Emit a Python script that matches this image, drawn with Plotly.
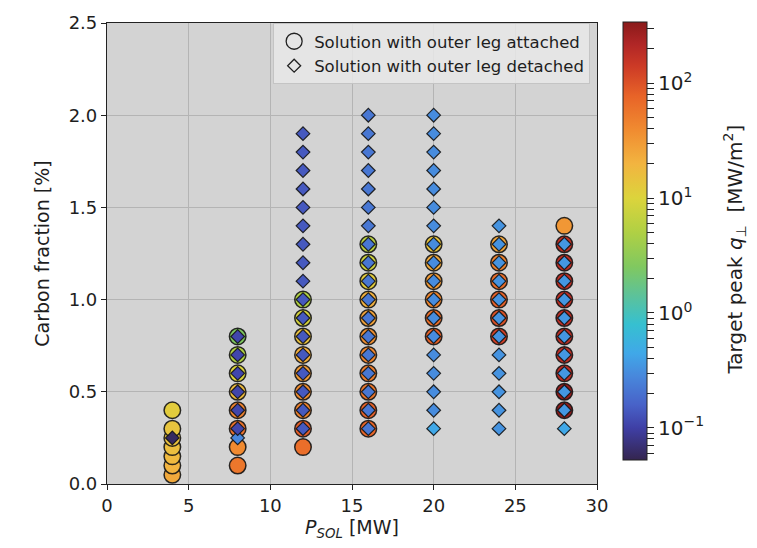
import numpy as np
import plotly.graph_objects as go

# ---------------- data ----------------
# Solutions with outer leg attached
att_P = [4, 4, 4, 4, 4, 4, 4,
         8, 8, 8, 8, 8, 8, 8, 8,
         12, 12, 12, 12, 12, 12, 12, 12, 12,
         16, 16, 16, 16, 16, 16, 16, 16, 16, 16, 16,
         20, 20, 20, 20, 20, 20,
         24, 24, 24, 24, 24, 24,
         28, 28, 28, 28, 28, 28, 28, 28, 28, 28, 28]
att_C = [0.05, 0.10, 0.15, 0.20, 0.25, 0.30, 0.40,
         0.1, 0.2, 0.3, 0.4, 0.5, 0.6, 0.7, 0.8,
         0.2, 0.3, 0.4, 0.5, 0.6, 0.7, 0.8, 0.9, 1.0,
         0.3, 0.4, 0.5, 0.6, 0.7, 0.8, 0.9, 1.0, 1.1, 1.2, 1.3,
         0.8, 0.9, 1.0, 1.1, 1.2, 1.3,
         0.8, 0.9, 1.0, 1.1, 1.2, 1.3,
         0.4, 0.5, 0.6, 0.7, 0.8, 0.9, 1.0, 1.1, 1.2, 1.3, 1.4]
att_q = [24, 20, 18, 16, 15, 14, 12,
         55, 40, 60, 45, 17, 10, 5, 2.5,
         65, 85, 45, 38, 30, 22, 15, 9, 5,
         75, 80, 55, 48, 42, 36, 27, 21, 12, 8, 6,
         80, 65, 42, 30, 23, 14,
         130, 100, 80, 65, 45, 25,
         320, 300, 180, 180, 180, 180, 180, 180, 180, 170, 32]

# Solutions with outer leg detached
det_P = [4,
         8, 8, 8, 8, 8, 8, 8,
         12, 12, 12, 12, 12, 12, 12, 12, 12, 12, 12, 12, 12, 12, 12, 12, 12,
         16, 16, 16, 16, 16, 16, 16, 16, 16, 16, 16, 16, 16, 16, 16, 16, 16, 16,
         20, 20, 20, 20, 20, 20, 20, 20, 20, 20, 20, 20, 20, 20, 20, 20, 20, 20,
         24, 24, 24, 24, 24, 24, 24, 24, 24, 24, 24, 24,
         28, 28, 28, 28, 28, 28, 28, 28, 28, 28, 28]
det_C = [0.25,
         0.25, 0.3, 0.4, 0.5, 0.6, 0.7, 0.8,
         0.3, 0.4, 0.5, 0.6, 0.7, 0.8, 0.9, 1.0, 1.1, 1.2, 1.3, 1.4, 1.5, 1.6, 1.7, 1.8, 1.9,
         0.3, 0.4, 0.5, 0.6, 0.7, 0.8, 0.9, 1.0, 1.1, 1.2, 1.3, 1.4, 1.5, 1.6, 1.7, 1.8, 1.9, 2.0,
         0.3, 0.4, 0.5, 0.6, 0.7, 0.8, 0.9, 1.0, 1.1, 1.2, 1.3, 1.4, 1.5, 1.6, 1.7, 1.8, 1.9, 2.0,
         0.3, 0.4, 0.5, 0.6, 0.7, 0.8, 0.9, 1.0, 1.1, 1.2, 1.3, 1.4,
         0.3, 0.4, 0.5, 0.6, 0.7, 0.8, 0.9, 1.0, 1.1, 1.2, 1.3]
det_q = [0.06,
         0.28, 0.11, 0.11, 0.11, 0.11, 0.11, 0.11,
         0.14, 0.14, 0.14, 0.14, 0.14, 0.14, 0.14, 0.14, 0.14, 0.14, 0.14, 0.14, 0.14, 0.14, 0.14, 0.14, 0.14,
         0.22, 0.22, 0.22, 0.22, 0.22, 0.22, 0.22, 0.22, 0.22, 0.22, 0.22, 0.22, 0.22, 0.22, 0.22, 0.22, 0.22, 0.22,
         0.45, 0.30, 0.30, 0.30, 0.30, 0.30, 0.30, 0.30, 0.30, 0.30, 0.30, 0.30, 0.30, 0.30, 0.30, 0.30, 0.30, 0.30,
         0.33, 0.33, 0.33, 0.33, 0.33, 0.33, 0.33, 0.33, 0.33, 0.33, 0.33, 0.33,
         0.45, 0.35, 0.35, 0.35, 0.35, 0.35, 0.35, 0.35, 0.35, 0.35, 0.35]

q_min, q_max = 0.0525, 340.0
cbar_major = [0.1, 1, 10, 100]
cbar_major_text = ["10<sup>\u22121</sup>", "10<sup>0</sup>", "10<sup>1</sup>", "10<sup>2</sup>"]
cbar_title = "Target peak <i>q</i><sub>\u22a5</sub>  [MW/m<sup>2</sup>]"

# ---------------- style ----------------
cscale = [
    [0.000, "#34254f"], [0.073, "#3f3fa5"], [0.126, "#4862c8"], [0.192, "#4888dc"],
    [0.244, "#40a8e8"], [0.310, "#36c0d0"], [0.375, "#5cc29a"], [0.441, "#80c860"],
    [0.520, "#b0d044"], [0.598, "#dcd43c"], [0.677, "#f2b440"], [0.756, "#f08a30"],
    [0.830, "#e86428"], [0.900, "#cc3a26"], [0.950, "#b02626"], [1.000, "#8a1a1a"],
]

lmin, lmax = np.log10(q_min), np.log10(q_max)

# colorbar ticks (major labelled, minor unlabelled)
tickvals, ticktext = [], []
for dec in [0.01, 0.1, 1, 10, 100]:
    for m in range(1, 10):
        v = dec * m
        if q_min <= v <= q_max:
            tickvals.append(np.log10(v))
            ticktext.append(cbar_major_text[cbar_major.index(dec)] if m == 1 else "")

font = "DejaVu Sans"
txt = "#1e1e1e"
line_col = "rgba(20,20,20,0.9)"

fig = go.Figure()

fig.add_trace(go.Scatter(
    x=att_P, y=att_C, mode="markers", showlegend=False,
    marker=dict(symbol="circle", size=16.5, color=np.log10(att_q),
                colorscale=cscale, cmin=lmin, cmax=lmax,
                line=dict(color=line_col, width=1.5),
                showscale=True,
                colorbar=dict(
                    x=(623 - 107) / 490, xanchor="left", xpad=0,
                    y=(484 - 15) / 468, yanchor="top", ypad=0,
                    len=(460 - 15) / 468, lenmode="fraction",
                    thickness=24, thicknessmode="pixels",
                    outlinecolor="#222", outlinewidth=1,
                    tickmode="array", tickvals=tickvals, ticktext=ticktext,
                    ticks="outside", ticklen=7, tickwidth=1, tickcolor="#222",
                    tickfont=dict(family=font, size=20, color=txt),
                )),
    hovertemplate="P=%{x} MW<br>C=%{y}%<extra>attached</extra>",
))

fig.add_trace(go.Scatter(
    x=det_P, y=det_C, mode="markers", showlegend=False,
    marker=dict(symbol="diamond", size=10.5, color=np.log10(det_q),
                colorscale=cscale, cmin=lmin, cmax=lmax,
                line=dict(color=line_col, width=1.2), showscale=False),
    hovertemplate="P=%{x} MW<br>C=%{y}%<extra>detached</extra>",
))

# legend entries
fig.add_trace(go.Scatter(x=[None], y=[None], mode="markers", name="Solution with outer leg attached",
                         marker=dict(symbol="circle-open", size=16, color="#222", line=dict(width=1.3))))
fig.add_trace(go.Scatter(x=[None], y=[None], mode="markers", name="Solution with outer leg detached",
                         marker=dict(symbol="diamond-open", size=10, color="#222", line=dict(width=1.3))))

axis_common = dict(
    showline=True, linecolor="#222", linewidth=1.2, mirror=True,
    ticks="outside", ticklen=5, tickwidth=1, tickcolor="#222",
    showgrid=True, gridcolor="#b4b4b4", gridwidth=1, zeroline=False,
    tickfont=dict(family=font, size=18, color=txt),
)

fig.update_layout(
    width=757, height=548,
    margin=dict(l=107, r=160, t=16, b=64),
    paper_bgcolor="white", plot_bgcolor="#d3d3d3",
    font=dict(family=font, size=14, color=txt),
    xaxis=dict(range=[0, 30], tickmode="linear", tick0=0, dtick=5,
               title=dict(text="<i>P<sub>SOL</sub></i> [MW]", font=dict(family=font, size=19), standoff=4),
               **axis_common),
    yaxis=dict(range=[0, 2.5], tickmode="linear", tick0=0, dtick=0.5, tickformat=".1f",
               title=dict(text="Carbon fraction [%]", font=dict(family=font, size=19), standoff=14),
               **axis_common),
    legend=dict(x=0.986, y=1.0, xanchor="right", yanchor="top",
                bgcolor="rgba(232,232,232,0.85)", bordercolor="#c4c4c4", borderwidth=1,
                font=dict(family=font, size=16.5, color=txt),
                itemsizing="trace", tracegroupgap=0),
    annotations=[dict(text=cbar_title, textangle=-90, xref="paper", yref="paper",
                      x=(735 - 107) / 490, y=(484 - 246) / 468, xanchor="center", yanchor="middle",
                      showarrow=False, font=dict(family=font, size=20, color=txt))],
    hovermode="closest",
)

fig.write_html("out.html")
